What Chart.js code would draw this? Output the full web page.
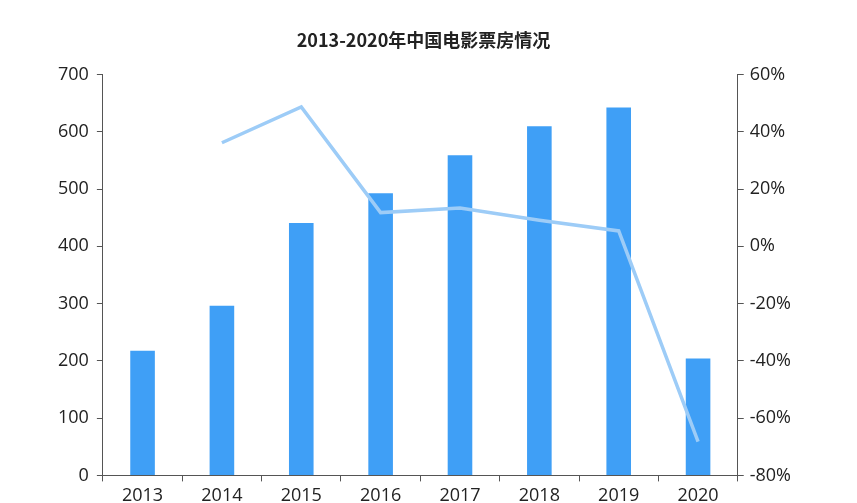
<!DOCTYPE html>
<html><head><meta charset="utf-8">
<script src="https://cdn.jsdelivr.net/npm/chart.js@4"></script>
<style>html,body{margin:0;background:#fff}#w{width:857px;height:503px}</style>
</head><body><div id="w"><canvas id="c"></canvas></div>
<script>
const years = ['2013','2014','2015','2016','2017','2018','2019','2020'];
const boxOffice = [217.7, 296.4, 440.7, 492.8, 559.1, 609.8, 642.7, 204.2];
const growth = [null, 36.2, 48.7, 11.8, 13.4, 9.1, 5.4, -68.2];
const F = '"Noto Sans CJK SC","Noto Sans",sans-serif';
const N = '"Open Sans","Noto Sans",sans-serif';
new Chart(document.getElementById('c'), {
  data: {
    labels: years,
    datasets: [
      {type:'line', data: growth, yAxisID:'y1', borderColor:'#9dccf7', borderWidth:3.5, pointRadius:0, tension:0, order:0},
      {type:'bar', data: boxOffice, yAxisID:'y', backgroundColor:'#3f9ff6', barPercentage:0.31, categoryPercentage:1, order:1}
    ]
  },
  options: {
    responsive:true, maintainAspectRatio:false, animation:false,
    layout:{padding:{left:50,right:60,top:15,bottom:-8}},
    plugins:{legend:{display:false}, tooltip:{enabled:false},
      title:{display:true, text:'2013-2020年中国电影票房情况', color:'#222', font:{family:F,size:18,weight:'bold'}, padding:{top:14,bottom:24}}},
    scales:{
      x:{grid:{display:true, drawOnChartArea:false, offset:true, color:'#555', tickLength:6}, border:{color:'#555'},
         ticks:{color:'#222', font:{family:N,size:18}, padding:4}},
      y:{min:0,max:700, ticks:{stepSize:100, color:'#222', font:{family:N,size:18}, padding:8},
         grid:{drawOnChartArea:false, color:'#555', tickLength:6}, border:{color:'#555'}},
      y1:{position:'right', min:-80, max:60, ticks:{stepSize:20, color:'#222', font:{family:N,size:18}, padding:6, callback:v=>v+'%'},
         grid:{drawOnChartArea:false, color:'#555', tickLength:6}, border:{color:'#555'}}
    }
  }
});
</script></body></html>
